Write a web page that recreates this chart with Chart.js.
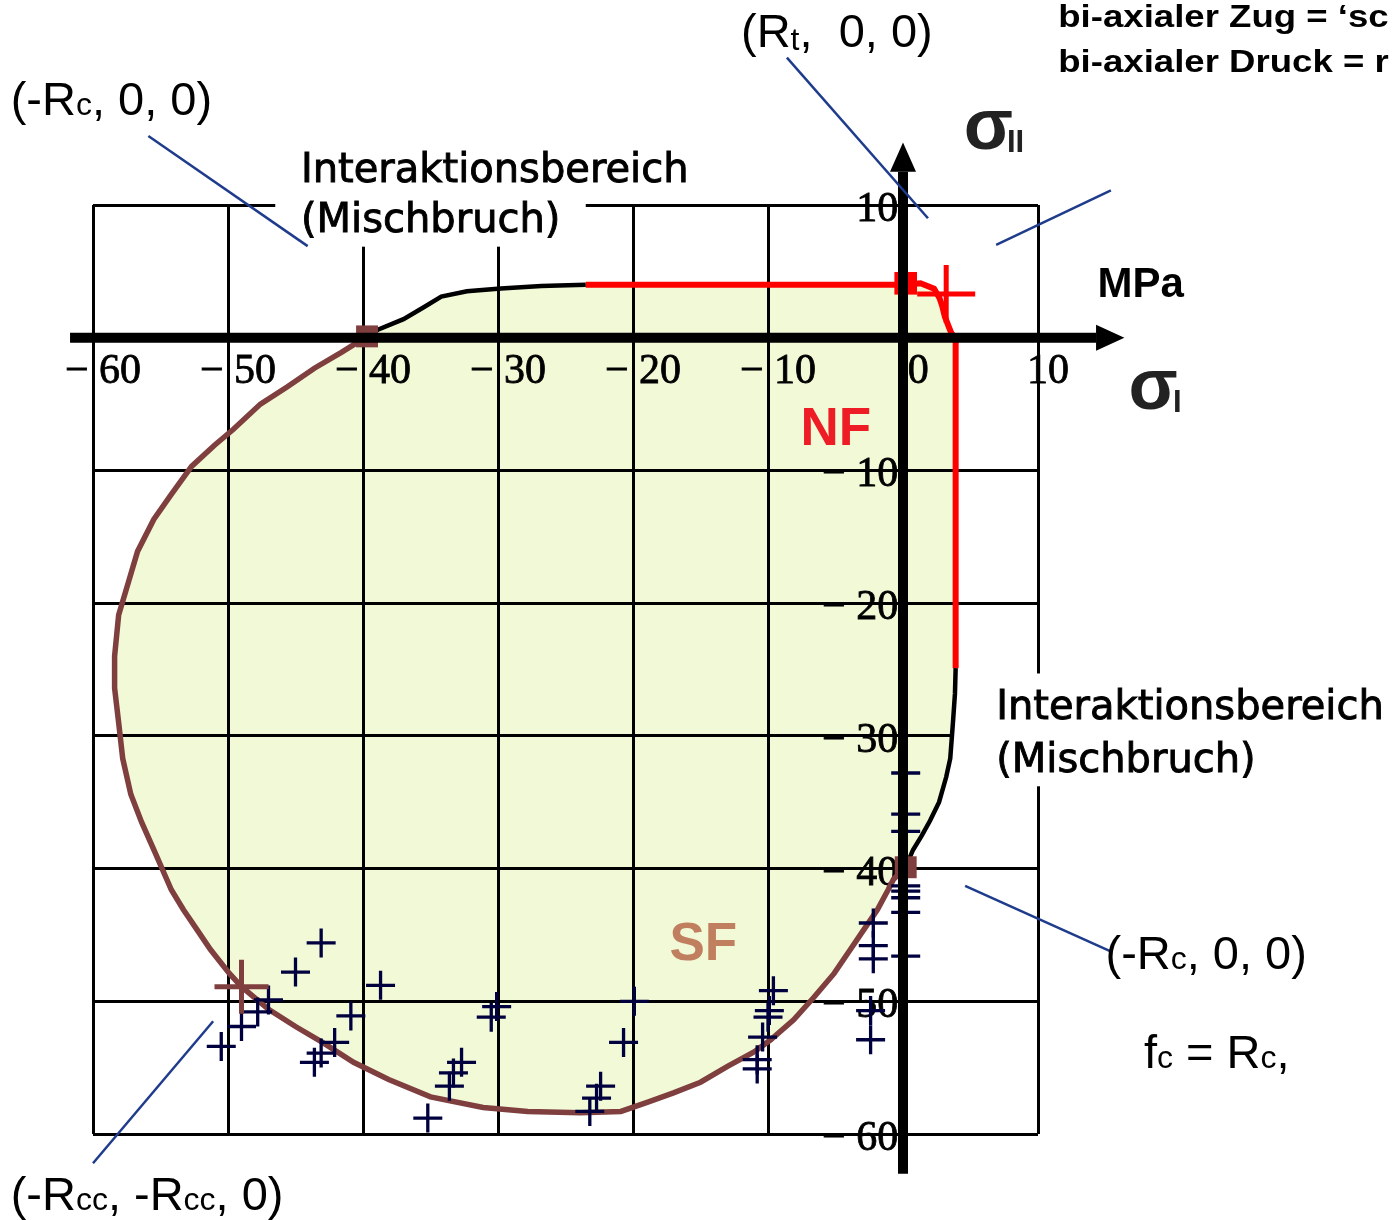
<!DOCTYPE html>
<html lang="de">
<head>
<meta charset="utf-8">
<title>Bruchkurve zweiachsig</title>
<script src="https://cdn.jsdelivr.net/npm/chart.js@4.4.1/dist/chart.umd.min.js"></script>
<style>
  html, body { margin: 0; padding: 0; background: #fff; }
</style>
</head>
<body>
<canvas id="bruchChart" width="1392" height="1220"></canvas>
<script>
// Achsenteilung in MPa
const xTickWerte = [-60, -50, -40, -30, -20, -10, 0, 10];
const yTickWerte = [-60, -50, -40, -30, -20, -10, 0, 10];

// Bruchkurve, Schubbruch-Ast (braun), von (-Rc, 0) bis (0, -Rc)
const schubbruchKurve = [
  [-39.7, 0.1], [-41.6, -1.1], [-43.6, -2.3], [-45.6, -3.7], [-47.6, -5.0],
  [-49.6, -6.9], [-51.0, -8.1], [-52.7, -9.7], [-54.2, -11.8], [-55.5, -13.7],
  [-56.7, -16.1], [-57.4, -18.5], [-58.1, -20.9], [-58.4, -24.0], [-58.4, -26.4],
  [-58.1, -29.0], [-57.8, -31.7], [-57.2, -34.4], [-56.4, -36.5], [-55.4, -38.8],
  [-54.2, -41.6], [-53.3, -43.1], [-52.3, -44.6], [-51.3, -46.1], [-49.9, -47.9],
  [-49.0, -48.9], [-47.0, -50.6], [-45.0, -51.9], [-43.0, -53.1], [-40.7, -54.6],
  [-38.1, -55.9], [-35.0, -57.2], [-31.1, -58.0], [-27.8, -58.3], [-23.9, -58.4],
  [-20.9, -58.3], [-18.9, -57.6], [-17.0, -56.9], [-15.0, -56.1], [-13.0, -54.9],
  [-11.0, -53.8], [-9.8, -52.9], [-8.1, -51.4], [-6.6, -49.7], [-5.1, -47.9],
  [-3.9, -46.1], [-2.9, -44.6], [-1.9, -43.1], [-1.1, -41.6], [-0.7, -40.8],
  [0.2, -39.9]
];

// Interaktionsbereich oben links (schwarz)
const mischbruchOben = [
  [-39.7, 0.1], [-38.9, 0.6], [-37.0, 1.4], [-35.5, 2.3], [-34.2, 3.1],
  [-32.3, 3.5], [-29.8, 3.7], [-26.8, 3.9], [-23.5, 4.0]
];

// Normalbruch-Grenze (rot)
const normalbruchLinie = [
  [-23.5, 4.0], [0.0, 4.0], [1.3, 4.1], [2.3, 3.7], [2.7, 3.0], [2.9, 2.4],
  [3.1, 1.6], [3.4, 0.8], [3.6, 0.3], [3.9, 0.0], [3.9, -24.9]
];

// Interaktionsbereich rechts (schwarz)
const mischbruchRechts = [
  [3.9, -24.9], [3.85, -26.8], [3.7, -29.0], [3.5, -31.7], [3.2, -33.1],
  [2.67, -35.0], [2.0, -36.4], [1.4, -37.5], [0.74, -38.6], [0.2, -39.9]
];

// Versuchswerte
const versuchsPunkte = [
  [-43.1, -45.6], [-45.0, -47.8], [-38.7, -48.8], [-47.0, -49.9], [-47.8, -50.8],
  [-49.0, -51.9], [-50.5, -53.4], [-40.9, -51.1], [-42.1, -53.1], [-43.1, -53.9],
  [-43.6, -54.6], [-30.1, -50.4], [-30.5, -51.2], [-32.7, -54.6], [-33.3, -55.4],
  [-33.6, -56.4], [-35.2, -58.8], [-19.9, -50.0], [-20.7, -53.1], [-22.4, -56.4],
  [-22.7, -57.3], [-23.2, -58.3], [-9.6, -49.2], [-9.9, -50.7], [-10.0, -51.2],
  [-10.4, -52.7], [-10.8, -54.4], [-10.8, -55.1], [-2.2, -44.1], [-2.2, -45.8],
  [-2.2, -46.8], [-2.4, -50.7], [-2.4, -52.9], [0.2, -32.8], [0.2, -35.9],
  [0.2, -37.2], [0.2, -41.3], [0.2, -41.7], [0.2, -42.2], [0.2, -43.3], [0.2, -46.6]
];

// Kennpunkte
const rcPunkte = [[-39.7, 0.1], [0.2, -39.9]];
const rccPunkt = [[-49.0, -48.9]];
const rtKreuz = [[3.2, 3.3]];
const rtEcke = [[0.2, 4.1]];

const xy = (pts) => pts.map(([x, y]) => ({ x, y }));

// geschlossener Umriss fuer die Flaeche (ohne doppelte Anschlusspunkte)
const flaechenUmriss = mischbruchOben
  .concat(normalbruchLinie.slice(1))
  .concat(mischbruchRechts.slice(1))
  .concat(schubbruchKurve.slice(0, -1).reverse().slice(0, -1));

const tickText = (v) => (v < 0 ? "\u2212 " + Math.abs(v) : String(v));

const serif = "'Liberation Serif', 'DejaVu Serif', serif";
const arial = "'Liberation Sans', Arial, sans-serif";
const verdana = "'DejaVu Sans', Verdana, sans-serif";

function textLauf(ctx, x, y, teile) {
  let cx = x;
  teile.forEach(([t, font, dy]) => {
    ctx.font = font;
    ctx.fillText(t, cx, y + (dy || 0));
    cx += ctx.measureText(t).width;
  });
}

const beschriftung = {
  id: "beschriftung",
  beforeDatasetsDraw(chart) {
    // weisse Felder hinter den Texten verdecken das Gitter
    const { ctx, scales: { x, y } } = chart;
    ctx.save();
    ctx.fillStyle = "#fff";
    const box = (x1, y1, x2, y2) => {
      const a = x.getPixelForValue(x1), b = y.getPixelForValue(y1);
      ctx.fillRect(a, b, x.getPixelForValue(x2) - a, y.getPixelForValue(y2) - b);
    };
    box(-46.5, 10.8, -23.5, 6.86);
    box(3.75, -25.3, 40, -33.8);
    ctx.restore();
  },
  afterDatasetsDraw(chart) {
    const { ctx, scales: { x, y } } = chart;
    const px = (v) => x.getPixelForValue(v);
    const py = (v) => y.getPixelForValue(v);
    ctx.save();
    ctx.fillStyle = "#000";
    ctx.strokeStyle = "#000";
    ctx.lineWidth = 10;
    // Achsen mit Pfeil
    ctx.beginPath();
    ctx.moveTo(px(-61.7), py(0));
    ctx.lineTo(px(14.3), py(0));
    ctx.moveTo(px(0), py(-63.0));
    ctx.lineTo(px(0), py(12.5));
    ctx.stroke();
    ctx.beginPath();
    ctx.moveTo(px(16.4), py(0));
    ctx.lineTo(px(14.3), py(0) - 13);
    ctx.lineTo(px(14.3), py(0) + 13);
    ctx.closePath();
    ctx.moveTo(px(0), py(14.7));
    ctx.lineTo(px(0) - 13, py(12.5));
    ctx.lineTo(px(0) + 13, py(12.5));
    ctx.closePath();
    ctx.fill();

    // Hinweislinien
    ctx.strokeStyle = "#1F3C8C";
    ctx.lineWidth = 2.5;
    [
      [-55.9, 15.2, -44.1, 6.9],
      [-8.6, 21.1, 1.85, 9.0],
      [15.4, 11.1, 6.9, 7.0],
      [4.6, -41.3, 15.3, -46.2],
      [-51.1, -51.5, -60.0, -62.2]
    ].forEach(([x1, y1, x2, y2]) => {
      ctx.beginPath();
      ctx.moveTo(px(x1), py(y1));
      ctx.lineTo(px(x2), py(y2));
      ctx.stroke();
    });
    ctx.restore();
  },
  afterDraw(chart) {
    const { ctx, scales: { x, y } } = chart;
    const px = (v) => x.getPixelForValue(v);
    const py = (v) => y.getPixelForValue(v);
    const gross = "47px " + arial;
    const klein = "32px " + arial;
    ctx.save();
    ctx.textBaseline = "alphabetic";
    ctx.textAlign = "left";
    ctx.fillStyle = "#000";

    textLauf(ctx, px(-12.0), py(21.9), [["(R", gross], ["t", klein, 3], [",  0, 0)", gross]]);
    textLauf(ctx, px(-66.1), py(16.8), [["(-R", gross], ["c", klein], [", 0, 0)", gross]]);
    textLauf(ctx, px(15.0), py(-47.6), [["(-R", gross], ["c", klein], [", 0, 0)", gross]]);
    textLauf(ctx, px(17.85), py(-55.0), [["f", gross], ["c", klein], [" = R", gross], ["c", klein], [",", gross]]);
    textLauf(ctx, px(-66.1), py(-65.7), [["(-R", gross], ["cc", klein], [", -R", gross], ["cc", klein], [", 0)", gross]]);

    // etwas kraeftiger, wie im Original
    ctx.font = "40px " + verdana;
    ctx.strokeStyle = "#000";
    ctx.lineWidth = 0.9;
    [["Interaktionsbereich", -44.6, 11.76], ["(Mischbruch)", -44.6, 8.0],
     ["Interaktionsbereich", 6.9, -28.7], ["(Mischbruch)", 6.9, -32.7]].forEach(([t, xv, yv]) => {
      ctx.fillText(t, px(xv), py(yv));
      ctx.strokeText(t, px(xv), py(yv));
    });

    ctx.font = "bold 31px " + arial;
    [["bi-axialer Zug = \u2018sc", 23.4], ["bi-axialer Druck = r", 20.0]].forEach(([t, yv]) => {
      ctx.save();
      ctx.translate(px(11.5), py(yv));
      ctx.scale(1.18, 1);
      ctx.fillText(t, 0, 0);
      ctx.restore();
    });

    ctx.font = "bold 42px " + arial;
    ctx.fillText("MPa", px(14.4), py(3.1));

    ctx.fillStyle = "#222";
    ctx.font = "bold 72px " + arial;
    ctx.fillText("\u03C3", px(4.5), py(14.2));
    ctx.fillText("\u03C3", px(16.7), py(-5.4));
    ctx.font = "bold 31px " + arial;
    ctx.fillText("II", px(7.7), py(14.0));
    ctx.fillText("I", px(20.0), py(-5.6));

    ctx.font = "bold 53px " + arial;
    ctx.fillStyle = "#EE1C25";
    ctx.fillText("NF", px(-7.6), py(-8.1));
    ctx.fillStyle = "#C08060";
    ctx.fillText("SF", px(-17.3), py(-46.9));
    ctx.restore();
  }
};

const linie = (data, farbe, breite, ord) => ({
  data: xy(data),
  showLine: true,
  borderColor: farbe,
  borderWidth: breite,
  pointRadius: 0,
  tension: 0,
  clip: false,
  order: ord
});

const marke = (data, stil, radius, farbe, breite, ord, fuellung) => ({
  data: xy(data),
  showLine: false,
  pointStyle: stil,
  pointRadius: radius,
  pointBorderColor: farbe,
  pointBackgroundColor: fuellung || farbe,
  pointBorderWidth: breite,
  clip: false,
  order: ord
});

new Chart(document.getElementById("bruchChart"), {
  type: "scatter",
  data: {
    datasets: [
      {
        label: "Flaeche",
        data: xy(flaechenUmriss),
        showLine: true,
        borderWidth: 0,
        borderColor: "rgba(0,0,0,0)",
        pointRadius: 0,
        tension: 0,
        fill: "shape",
        backgroundColor: "#F1F9D7",
        order: 9
      },
      linie(schubbruchKurve, "#7F3F3F", 5.5, 6),
      linie(mischbruchOben, "#000", 4.5, 5),
      linie(mischbruchRechts, "#000", 4.5, 5),
      linie(normalbruchLinie, "#FF0000", 6, 5),
      marke(versuchsPunkte, "cross", 14.5, "#00003F", 3.3, 3),
      marke(rcPunkte, "rect", 15.5, "#7F3F3F", 0, 2),
      marke(rccPunkt, "cross", 27, "#7F3F3F", 5, 1),
      marke(rtEcke, "rect", 16, "#FF0000", 0, 1),
      marke(rtKreuz, "cross", 29, "#FF0000", 5, 1)
    ]
  },
  options: {
    responsive: false,
    animation: false,
    events: [],
    layout: {
      autoPadding: false,
      padding: { left: 93, right: 354, top: 205, bottom: 86 }
    },
    plugins: {
      legend: { display: false },
      tooltip: { enabled: false },
      filler: { drawTime: "beforeDraw" }
    },
    scales: {
      x: {
        type: "linear",
        position: { y: 0 },
        min: -60,
        max: 10,
        afterBuildTicks: (s) => { s.ticks = xTickWerte.map((v) => ({ value: v })); },
        grid: { color: "#000", lineWidth: 3, drawTicks: false },
        border: { display: false },
        ticks: {
          color: "#000",
          font: { family: serif, size: 42 },
          textStrokeColor: "#000",
          textStrokeWidth: 0.8,
          padding: 9,
          labelOffset: 10,
          maxRotation: 0,
          autoSkip: false,
          callback: (v) => (v === 0 ? " 0" : tickText(v))
        }
      },
      y: {
        type: "linear",
        position: { x: -0.35 },
        min: -60,
        max: 10,
        afterBuildTicks: (s) => { s.ticks = yTickWerte.map((v) => ({ value: v })); },
        grid: { color: "#000", lineWidth: 3, drawTicks: false },
        border: { display: false },
        ticks: {
          color: "#000",
          font: { family: serif, size: 42 },
          textStrokeColor: "#000",
          textStrokeWidth: 0.8,
          padding: 0,
          labelOffset: 5,
          autoSkip: false,
          callback: (v) => (v === 0 ? "" : tickText(v))
        }
      }
    }
  },
  plugins: [beschriftung]
});
</script>
</body>
</html>
